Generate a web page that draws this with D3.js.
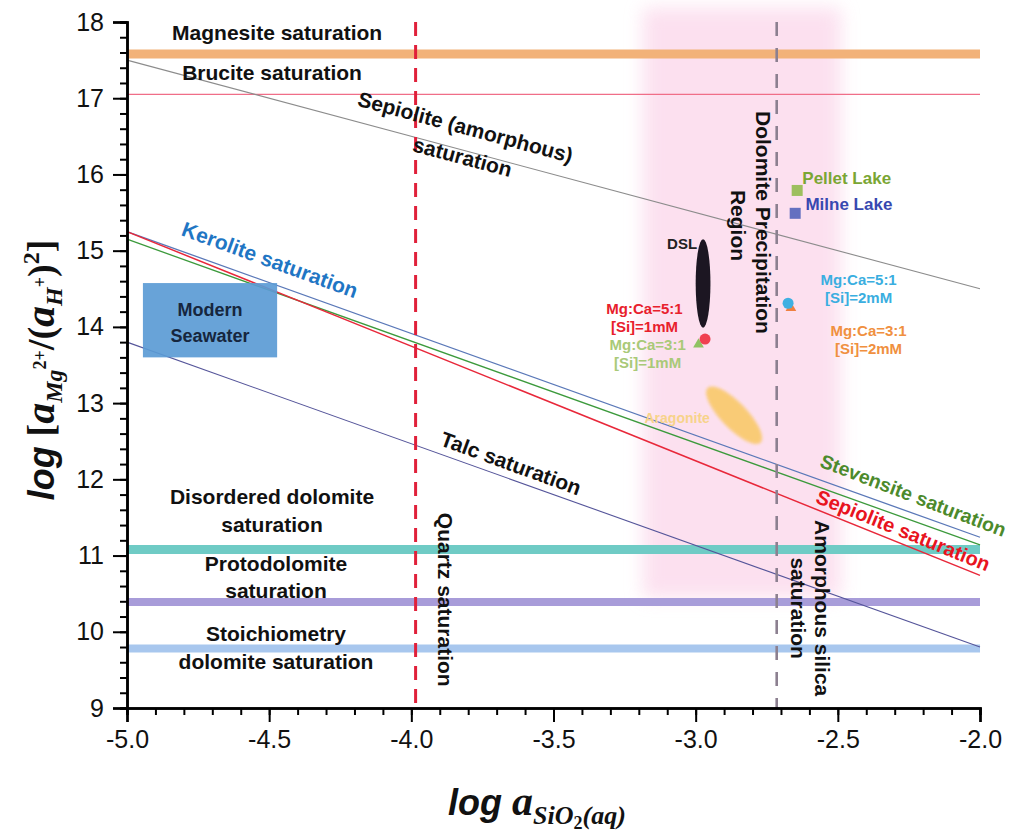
<!DOCTYPE html>
<html>
<head>
<meta charset="utf-8">
<script src="https://cdn.jsdelivr.net/npm/d3@7"></script>
<style>
  body { margin: 0; background: #fff; }
  text { font-family: "Liberation Sans", Arial, sans-serif; }
</style>
</head>
<body>
<div id="viz"></div>
<script>
// axis ticks
const xTicks = [-5.0, -4.5, -4.0, -3.5, -3.0, -2.5, -2.0];
const yTicks = [9, 10, 11, 12, 13, 14, 15, 16, 17, 18];

// horizontal saturation levels (log value)
const bandNames = ["Magnesite", "Brucite", "Disordered dolomite", "Protodolomite", "Stoichiometry dolomite"];
const bandValues = [17.58, 17.05, 11.08, 10.39, 9.78];

// sloped saturation lines: value at x=-5 and at x=-2
const lineNames = ["Sepiolite (amorphous)", "Kerolite", "Stevensite", "Sepiolite", "Talc"];
const lineStart = [17.5, 15.25, 15.15, 15.25, 13.8];
const lineEnd = [14.5, 11.24, 11.14, 10.74, 9.8];

// vertical saturation lines
const vNames = ["Quartz", "Amorphous silica"];
const vValues = [-3.985, -2.715];

// dolomite precipitation region (x range)
const regionRange = [-3.185, -2.49];

// lakes
const lakeNames = ["Pellet Lake", "Milne Lake"];
const lakeX = [-2.643, -2.65];
const lakeY = [15.79, 15.49];

// experiments
const expNames = ["Mg:Ca=5:1 [Si]=1mM", "Mg:Ca=3:1 [Si]=1mM", "Mg:Ca=5:1 [Si]=2mM", "Mg:Ca=3:1 [Si]=2mM"];
const expX = [-2.967, -2.99, -2.675, -2.665];
const expY = [13.84, 13.77, 14.31, 14.25];

// DSL ellipse: center and half sizes
const dslCenter = [-2.974, 14.57];
const dslHalf = [0.026, 0.58];

// modern seawater box
const seawaterX = [-4.944, -4.472];
const seawaterY = [13.6, 14.575];

// yellow field
const fieldCenter = [-2.865, 12.84];

const width = 1016, height = 837;

const svg = d3.select("#viz")
  .append("svg")
  .attr("width", width)
  .attr("height", height);

const x = d3.scaleLinear().domain([-5, -2]).range([127, 980]);
const y = d3.scaleLinear().domain([9, 18]).range([708, 22]);

const defs = svg.append("defs");
defs.append("filter")
  .attr("id", "soft")
  .attr("x", "-30%").attr("y", "-10%")
  .attr("width", "160%").attr("height", "120%")
  .append("feGaussianBlur")
  .attr("stdDeviation", 9);
defs.append("filter")
  .attr("id", "soft2")
  .attr("x", "-20%").attr("y", "-20%")
  .attr("width", "140%").attr("height", "140%")
  .append("feGaussianBlur")
  .attr("stdDeviation", 1.5);

// pink region
svg.append("rect")
  .attr("x", x(regionRange[0]))
  .attr("y", 8)
  .attr("width", x(regionRange[1]) - x(regionRange[0]))
  .attr("height", 590)
  .attr("fill", "#fbd6ea")
  .attr("opacity", 0.75)
  .attr("filter", "url(#soft)");

// horizontal bands
const bandColors = ["#f2b279", "#f06e88", "#6fcbc5", "#a89cd9", "#a8c7ee"];
const bandWidths = [9, 1.3, 9, 8, 8];
bandValues.forEach((v, i) => {
  svg.append("line")
    .attr("x1", x(-5)).attr("x2", x(-2))
    .attr("y1", y(v)).attr("y2", y(v))
    .attr("stroke", bandColors[i])
    .attr("stroke-width", bandWidths[i]);
});

// sloped lines
const lineColors = ["#8c8c8c", "#5a78b8", "#3c9a3c", "#e8283a", "#55559a"];
const lineW = [1.1, 1.3, 1.3, 1.5, 1.1];
lineNames.forEach((n, i) => {
  svg.append("line")
    .attr("x1", x(-5)).attr("y1", y(lineStart[i]))
    .attr("x2", x(-2)).attr("y2", y(lineEnd[i]))
    .attr("stroke", lineColors[i])
    .attr("stroke-width", lineW[i]);
});

// vertical dashed lines
const vColors = ["#e0203a", "#8c8090"];
const vDash = ["14,9", "14,12"];
vValues.forEach((v, i) => {
  svg.append("line")
    .attr("x1", x(v)).attr("x2", x(v))
    .attr("y1", y(18)).attr("y2", y(9))
    .attr("stroke", vColors[i])
    .attr("stroke-width", i === 0 ? 3 : 2.6)
    .attr("stroke-dasharray", vDash[i]);
});

// modern seawater
svg.append("rect")
  .attr("x", x(seawaterX[0]))
  .attr("y", y(seawaterY[1]))
  .attr("width", x(seawaterX[1]) - x(seawaterX[0]))
  .attr("height", y(seawaterY[0]) - y(seawaterY[1]))
  .attr("fill", "#5b9bd5")
  .attr("opacity", 0.92);

// yellow field
svg.append("ellipse")
  .attr("cx", x(fieldCenter[0]))
  .attr("cy", y(fieldCenter[1]))
  .attr("rx", 38)
  .attr("ry", 13)
  .attr("transform", `rotate(46, ${x(fieldCenter[0])}, ${y(fieldCenter[1])})`)
  .attr("fill", "#f9c96a")
  .attr("opacity", 0.9)
  .attr("filter", "url(#soft2)");

// DSL ellipse
svg.append("ellipse")
  .attr("cx", x(dslCenter[0]))
  .attr("cy", y(dslCenter[1]))
  .attr("rx", x(dslCenter[0] + dslHalf[0]) - x(dslCenter[0]))
  .attr("ry", y(dslCenter[1] - dslHalf[1]) - y(dslCenter[1]))
  .attr("fill", "#1c1622");

// lakes
const lakeColors = ["#9dbf5e", "#6470c0"];
lakeNames.forEach((n, i) => {
  svg.append("rect")
    .attr("x", x(lakeX[i]) - 5.5)
    .attr("y", y(lakeY[i]) - 5.5)
    .attr("width", 11).attr("height", 11)
    .attr("fill", lakeColors[i]);
});

// experiment points
const expColors = ["#f04050", "#8fc263", "#3fb0e2", "#f08040"];
const expShape = ["circle", "triangle", "circle", "triangle"];
[1, 0, 3, 2].forEach(i => {
  const px = x(expX[i]), py = y(expY[i]);
  if (expShape[i] === "circle") {
    svg.append("circle").attr("cx", px).attr("cy", py).attr("r", 5.5).attr("fill", expColors[i]);
  } else {
    svg.append("path")
      .attr("d", d3.symbol(d3.symbolTriangle, 50)())
      .attr("transform", `translate(${px},${py})`)
      .attr("fill", expColors[i]);
  }
});

// ---- labels ----
function label(text, px, py, opts = {}) {
  const t = svg.append("text")
    .attr("transform", `translate(${px},${py}) rotate(${opts.rotate || 0})`)
    .attr("text-anchor", opts.anchor || "middle")
    .attr("dy", opts.dy || "0.35em")
    .style("font-size", (opts.size || 21) + "px")
    .style("font-weight", "bold")
    .style("fill", opts.color || "#111")
    .text(text);
  return t;
}

label("Magnesite saturation", x(-4.472), y(17.86));
label("Brucite saturation", x(-4.49), y(17.33));
label("Sepiolite (amorphous)", x(-3.81), y(16.62), { rotate: 15 });
label("saturation", x(-3.82), y(16.23), { rotate: 15 });
label("Kerolite saturation", x(-4.497), y(14.88), { rotate: 20, color: "#1f76c4" });
label("Talc saturation", x(-3.65), y(12.21), { rotate: 20 });
label("Stevensite saturation", x(-2.235), y(11.79), { rotate: 21, color: "#4c8a2c", size: 19.5 });
label("Sepiolite saturation", x(-2.27), y(11.33), { rotate: 22, color: "#e8141e", size: 20 });
label("Disordered dolomite", x(-4.49), y(11.77));
label("saturation", x(-4.49), y(11.40));
label("Protodolomite", x(-4.476), y(10.90));
label("saturation", x(-4.476), y(10.54));
label("Stoichiometry", x(-4.476), y(9.97));
label("dolomite saturation", x(-4.476), y(9.61));
label("Quartz saturation", x(-3.88), y(10.42), { rotate: 90 });
label("Amorphous silica", x(-2.555), y(10.31), { rotate: 90 });
label("saturation", x(-2.638), y(10.31), { rotate: 90 });
label("Dolomite  Precipitation", x(-2.763), y(15.37), { rotate: 90 });
label("Region", x(-2.851), y(15.33), { rotate: 90 });

label("Modern", x(-4.708), y(14.22), { size: 18, color: "#16263e" });
label("Seawater", x(-4.708), y(13.88), { size: 18, color: "#16263e" });

label("DSL", x(-2.995), y(15.09), { size: 15, anchor: "end", color: "#222" });
label("Aragonite", x(-3.065), y(12.80), { size: 14, color: "#f7d38a" });

label(lakeNames[0], x(-2.625), y(15.95), { size: 17, anchor: "start", color: "#7aa633" });
label(lakeNames[1], x(-2.614), y(15.61), { size: 17, anchor: "start", color: "#3848b0" });

const expLabelPos = [[-3.18, 14.24], [-3.169, 13.77], [-2.427, 14.62], [-2.392, 13.95]];
const expLabelColors = ["#e8202c", "#a9c978", "#3aaee0", "#f09040"];
expNames.forEach((n, i) => {
  const parts = n.split(" ");
  label(parts[0], x(expLabelPos[i][0]), y(expLabelPos[i][1]), { size: 15, color: expLabelColors[i] });
  label(parts[1], x(expLabelPos[i][0]), y(expLabelPos[i][1]) + 18, { size: 15, color: expLabelColors[i] });
});

// ---- axes ----
const tickFont = "\"Liberation Sans\", Arial, sans-serif";
const noLabel = () => "";
const xFmt = d => d3.format(".1f")(d).replace("\u2212", "-");

// minor ticks
const yMinor = svg.append("g")
  .attr("transform", `translate(${x(-5)},0)`)
  .call(d3.axisLeft(y).tickValues(d3.range(9, 18.001, 0.2)).tickSize(7).tickFormat(noLabel));
const xMinor = svg.append("g")
  .attr("transform", `translate(0,${y(9)})`)
  .call(d3.axisBottom(x).tickValues(d3.range(-5, -1.999, 0.1)).tickSize(7).tickFormat(noLabel));

// major ticks
const yMajor = svg.append("g")
  .attr("transform", `translate(${x(-5)},0)`)
  .call(d3.axisLeft(y).tickValues(yTicks).tickSize(14).tickPadding(9).tickFormat(d3.format("d")));
const xMajor = svg.append("g")
  .attr("transform", `translate(0,${y(9)})`)
  .call(d3.axisBottom(x).tickValues(xTicks).tickSize(14).tickPadding(8).tickFormat(xFmt));

[yMinor, xMinor, yMajor, xMajor].forEach(g => {
  g.selectAll("path.domain").attr("stroke-width", 2.5);
  g.selectAll("line").attr("stroke-width", 2);
  g.selectAll("text")
    .style("font-family", tickFont)
    .style("font-size", "25px")
    .style("fill", "#111");
});

// ---- axis titles ----
const sans = "\"Liberation Sans\", Arial, sans-serif";
const serif = "\"Liberation Serif\", \"DejaVu Serif\", serif";

function richText(g, segs) {
  const t = g.append("text").attr("text-anchor", "middle").style("fill", "#111");
  let prev = 0;
  segs.forEach(s => {
    t.append("tspan")
      .attr("dy", s[3] - prev)
      .style("font-family", s[1] === "sans" ? sans : serif)
      .style("font-size", s[2] + "px")
      .style("font-weight", "bold")
      .style("font-style", s[4] ? "italic" : "normal")
      .text(s[0]);
    prev = s[3];
  });
  return t;
}

const yTitle = svg.append("g")
  .attr("transform", "translate(54,370) rotate(-90)");
richText(yTitle, [
  ["log ", "sans", 36, 0, true],
  ["[", "serif", 38, 0, false],
  ["a", "serif", 42, 0, true],
  ["Mg", "serif", 24, 8, true],
  ["2+", "serif", 18, -8, false],
  ["/(", "serif", 38, 0, false],
  ["a", "serif", 42, 0, true],
  ["H", "serif", 24, 8, true],
  ["+", "serif", 18, -8, false],
  [")", "serif", 38, 0, false],
  ["2", "serif", 24, -15, false],
  ["]", "serif", 38, 0, false]
]);

const xTitle = svg.append("g")
  .attr("transform", "translate(537,815)");
richText(xTitle, [
  ["log ", "sans", 36, 0, true],
  ["a", "serif", 42, 0, true],
  ["SiO", "serif", 26, 9, true],
  ["2", "serif", 18, 14, false],
  ["(aq)", "serif", 26, 9, true]
]);
</script>
</body>
</html>
